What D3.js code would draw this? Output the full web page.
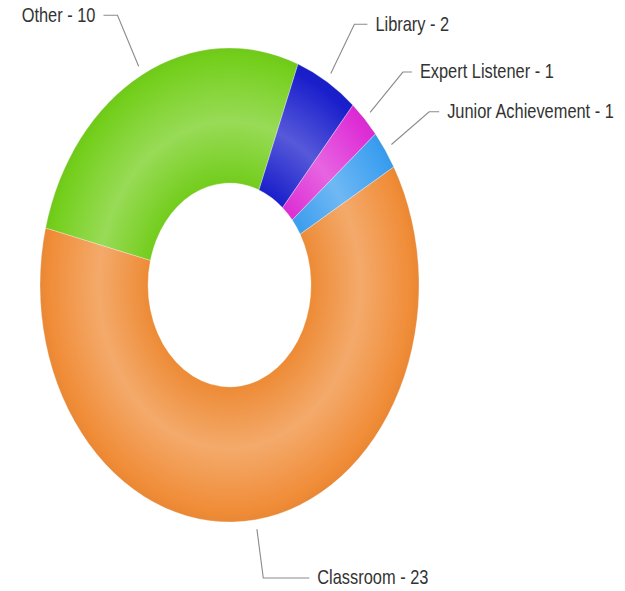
<!DOCTYPE html>
<html>
<head>
<meta charset="utf-8">
<script src="https://cdn.jsdelivr.net/npm/d3@7"></script>
<style>
  html, body { margin: 0; padding: 0; background: #fff; }
  svg { display: block; }
  text { font-family: "Liberation Sans", Arial, sans-serif; }
</style>
</head>
<body>
<div id="chart"></div>
<script>
// Sessions by venue
const categories = ["Other", "Library", "Expert Listener", "Junior Achievement", "Classroom"];
const counts = [10, 2, 1, 1, 23];
const sliceColors = ["#74cf1c", "#1a1fcc", "#de2ed6", "#3c9ff0", "#f08c37"];

const W = 625, H = 591;
const cx = 229.5, cy = 285;
const outerR = 189.5, innerR = 81.5;
const squash = 237 / 189.5;          // vertical stretch of the ring
const startDeg = -76.1;

// horizontal tail length of each leader, per label
const tailLen = { "Other": 14, "Library": 13, "Expert Listener": 9, "Junior Achievement": 10, "Classroom": 46 };

const data = categories.map((c, i) => ({ name: c, value: counts[i], color: sliceColors[i] }));

const svg = d3.select("#chart").append("svg")
  .attr("width", W).attr("height", H)
  .style("background", "#fff");

const defs = svg.append("defs");
data.forEach((d, i) => {
  const base = d3.color(d.color);
  const light = d3.interpolateRgb(d.color, "#ffffff")(0.26);
  const g = defs.append("radialGradient")
    .attr("id", "shade" + i)
    .attr("gradientUnits", "userSpaceOnUse")
    .attr("cx", 0).attr("cy", 0).attr("r", outerR);
  g.append("stop").attr("offset", 0).attr("stop-color", base.darker(0.05));
  g.append("stop").attr("offset", innerR / outerR).attr("stop-color", base.darker(0.03));
  g.append("stop").attr("offset", 0.69).attr("stop-color", light);
  g.append("stop").attr("offset", 0.96).attr("stop-color", base);
  g.append("stop").attr("offset", 1).attr("stop-color", base.darker(0.1));
});

const pie = d3.pie()
  .sort(null)
  .value(d => d.value)
  .startAngle(startDeg * Math.PI / 180)
  .endAngle(startDeg * Math.PI / 180 + 2 * Math.PI);

const arc = d3.arc().innerRadius(innerR).outerRadius(outerR);
const arcs = pie(data);

const ring = svg.append("g")
  .attr("transform", `translate(${cx},${cy}) scale(1,${squash})`);

ring.selectAll("path.slice")
  .data(arcs)
  .join("path")
  .attr("class", "slice")
  .attr("d", arc)
  .attr("fill", (d, i) => `url(#shade${i})`)
  .attr("stroke", "rgba(255,255,255,0.45)")
  .attr("stroke-width", 0.6);

// leader lines and labels
const labels = svg.append("g");

arcs.forEach(d => {
  const mid = (d.startAngle + d.endAngle) / 2;
  const side = Math.sin(mid) >= 0 ? 1 : -1;
  const r0 = outerR * 1.04, r1 = 243;
  const p0 = [cx + r0 * Math.sin(mid), cy - r0 * Math.cos(mid) * squash];
  // keep the elbow inside the drawing area so the label stays visible
  const p1 = [cx + r1 * Math.sin(mid), Math.min(H - 13, cy - r1 * Math.cos(mid) * squash)];
  const t = tailLen[d.data.name];
  const p2 = [p1[0] + side * t, p1[1]];

  labels.append("path")
    .attr("d", d3.line()([p0, p1, p2]))
    .attr("fill", "none")
    .attr("stroke", "#8a8a8a")
    .attr("stroke-width", 1.1);

  labels.append("text")
    .attr("transform", `translate(${p2[0] + side * 8},${p1[1]}) scale(1,1.18)`)
    .attr("dy", 5.4)
    .attr("text-anchor", side > 0 ? "start" : "end")
    .attr("font-size", 16.4)
    .attr("fill", "#333")
    .text(`${d.data.name} - ${d.data.value}`);
});
</script>
</body>
</html>
